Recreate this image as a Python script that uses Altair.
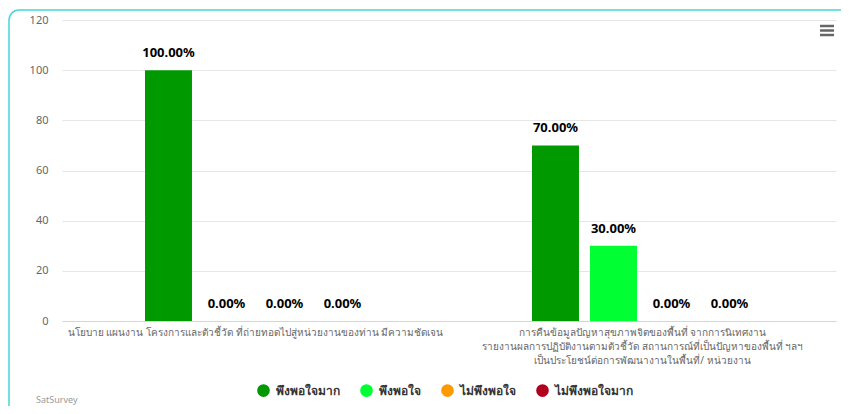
import altair as alt
import pandas as pd

categories = [
    "นโยบาย แผนงาน โครงการและตัวชี้วัด ที่ถ่ายทอดไปสู่หน่วยงานของท่าน มีความชัดเจน",
    "การคืนข้อมูลปัญหาสุขภาพจิตของพื้นที่ จากการนิเทศงาน\nรายงานผลการปฏิบัติงานตามตัวชี้วัด สถานการณ์ที่เป็นปัญหาของพื้นที่ ฯลฯ\nเป็นประโยชน์ต่อการพัฒนางานในพื้นที่/ หน่วยงาน",
]
series = ["พึงพอใจมาก", "พึงพอใจ", "ไม่พึงพอใจ", "ไม่พึงพอใจมาก"]
colors = ["#009900", "#00ff33", "#ff9900", "#b00020"]
values = {
    "พึงพอใจมาก": [100, 70],
    "พึงพอใจ": [0, 30],
    "ไม่พึงพอใจ": [0, 0],
    "ไม่พึงพอใจมาก": [0, 0],
}
y_ticks = [0, 20, 40, 60, 80, 100, 120]

rows = []
for s in series:
    for c, v in zip(categories, values[s]):
        rows.append({"category": c, "series": s, "value": v, "label": f"{v:.2f}%"})
df = pd.DataFrame(rows)

FONT = "Noto Sans"

xscale = alt.Scale(paddingInner=0.429, paddingOuter=0.2145)
xoscale = alt.Scale(paddingInner=0.19, paddingOuter=0)

x = alt.X("category:N", sort=categories, title=None, scale=xscale,
          axis=alt.Axis(labelAngle=0, labelExpr="split(datum.label, '\\n')",
                        labelColor="#666666", labelFontSize=10, labelLineHeight=14,
                        labelPadding=6, labelBaseline="top", ticks=False,
                        domainColor="#ccd6eb", labelLimit=600))
xo = alt.XOffset("series:N", sort=series, scale=xoscale)

bars = alt.Chart(df).mark_bar().encode(
    x=x,
    xOffset=xo,
    y=alt.Y("value:Q", title=None,
            scale=alt.Scale(domain=[0, 120], nice=False),
            axis=alt.Axis(values=y_ticks, labelColor="#666666", labelFontSize=11,
                          labelPadding=14, ticks=False, domain=False,
                          gridColor="#e6e6e6")),
    color=alt.Color("series:N", sort=series,
                    scale=alt.Scale(domain=series, range=colors),
                    legend=alt.Legend(title=None, orient="none", direction="horizontal",
                                      legendX=195, legendY=364, symbolType="circle",
                                      symbolSize=160, symbolStrokeWidth=0,
                                      labelFontSize=12, labelFontWeight="bold",
                                      labelColor="#333333", columnPadding=20,
                                      labelOffset=6)),
)

labels = alt.Chart(df).mark_text(dy=-17, fontSize=13, fontWeight="bold",
                                 color="#000000", baseline="middle").encode(
    x=alt.X("category:N", sort=categories, scale=xscale),
    xOffset=alt.XOffset("series:N", sort=series, scale=xoscale),
    y="value:Q",
    text="label:N",
)

frame = alt.Chart(pd.DataFrame({"k": [0]})).mark_rect(
    fill=None, stroke="#45d6d6", strokeWidth=1.5, cornerRadius=10
).encode(x=alt.value(-53), x2=alt.value(900), y=alt.value(-10), y2=alt.value(500))

credit = alt.Chart(pd.DataFrame({"t": ["SatSurvey"]})).mark_text(
    align="left", baseline="bottom", fontSize=9, color="#999999"
).encode(x=alt.value(-26), y=alt.value(385), text="t:N")

menu_df = pd.DataFrame({"k": [0]})
menu = [
    alt.Chart(menu_df).mark_rule(color="#666666", strokeWidth=2.5).encode(
        x=alt.value(758), x2=alt.value(772), y=alt.value(yy))
    for yy in (6, 10.5, 15)
]

chart = alt.layer(bars, labels, frame, credit, *menu).properties(
    width=774, height=301,
    padding={"left": 54, "top": 12, "right": 5, "bottom": 85},
    autosize=alt.AutoSizeParams(type="none"),
).configure(font=FONT).configure_view(stroke=None)

chart.save("out.html", embed_options={"renderer": "svg", "actions": False})
